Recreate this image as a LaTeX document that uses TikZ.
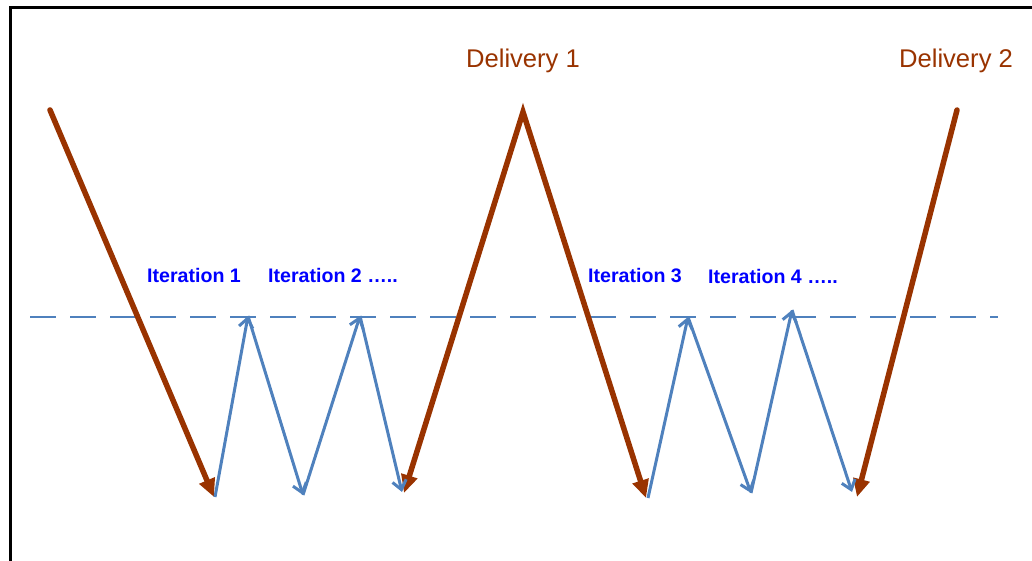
\documentclass[tikz,border=0pt]{standalone}
\usepackage{fontspec}
\setmainfont{Liberation Sans}
\definecolor{dlbrown}{RGB}{153,51,0}
\definecolor{itblue}{RGB}{79,129,189}
\definecolor{txtblue}{RGB}{0,0,255}
\usetikzlibrary{arrows.meta}

\begin{document}
\begin{tikzpicture}[x=1pt, y=-1pt,
  delivery/.style={dlbrown, line width=5.5pt, line cap=round, >={Triangle[length=18pt,width=16pt]}},
  iter/.style={itblue, line width=3pt, -{Straight Barb[length=9pt,width=14pt]}},
  dlabel/.style={dlbrown, anchor=base, font=\fontsize{25.6}{30}\selectfont},
  ilabel/.style={txtblue, anchor=base, font=\fontsize{19.6}{23}\selectfont\bfseries}]
\useasboundingbox (0,0) rectangle (1032,561);
\draw[line width=3pt] (10.5,7.7) rectangle (1050,580);

\coordinate (s1) at (50,110);
\coordinate (d1) at (214,497);
\coordinate (d2) at (404,493);
\coordinate (p1) at (523,112);
\coordinate (d3) at (646,498);
\coordinate (d4) at (857,497);
\coordinate (s2) at (957,110);

\coordinate (a1) at (215,497);
\coordinate (a2) at (248,316);
\coordinate (a3) at (303,495);
\coordinate (a4) at (360,316);
\coordinate (a5) at (402,492);
\coordinate (c1) at (648,498);
\coordinate (c2) at (688,317);
\coordinate (c3) at (751,493);
\coordinate (c4) at (792,310);
\coordinate (c5) at (852,492);

\coordinate (l1) at (30,317);
\coordinate (l2) at (998,317);
\draw[itblue, line width=1.3pt, dash pattern=on 26pt off 14pt] (l1) -- (l2);

\draw[delivery, ->] (s1) -- (d1);
\draw[delivery, <->, line cap=butt] (d2) -- (p1) -- (d3);
\draw[delivery, ->] (s2) -- (d4);

\draw[iter] (a1) -- (a2);
\draw[iter] (a2) -- (a3);
\draw[iter] (a3) -- (a4);
\draw[iter] (a4) -- (a5);
\draw[iter] (c1) -- (c2);
\draw[iter] (c2) -- (c3);
\draw[iter] (c3) -- (c4);
\draw[iter] (c4) -- (c5);

\node[dlabel] (del1) at (523,68) {Delivery 1};
\node[dlabel] (del2) at (956,68) {Delivery 2};
\node[ilabel] (it1) at (194,282) {Iteration 1};
\node[ilabel] (it2) at (333,282) {Iteration 2 …..};
\node[ilabel] (it3) at (635,282) {Iteration 3};
\node[ilabel] (it4) at (773,283) {Iteration 4 …..};
\end{tikzpicture}
\end{document}
